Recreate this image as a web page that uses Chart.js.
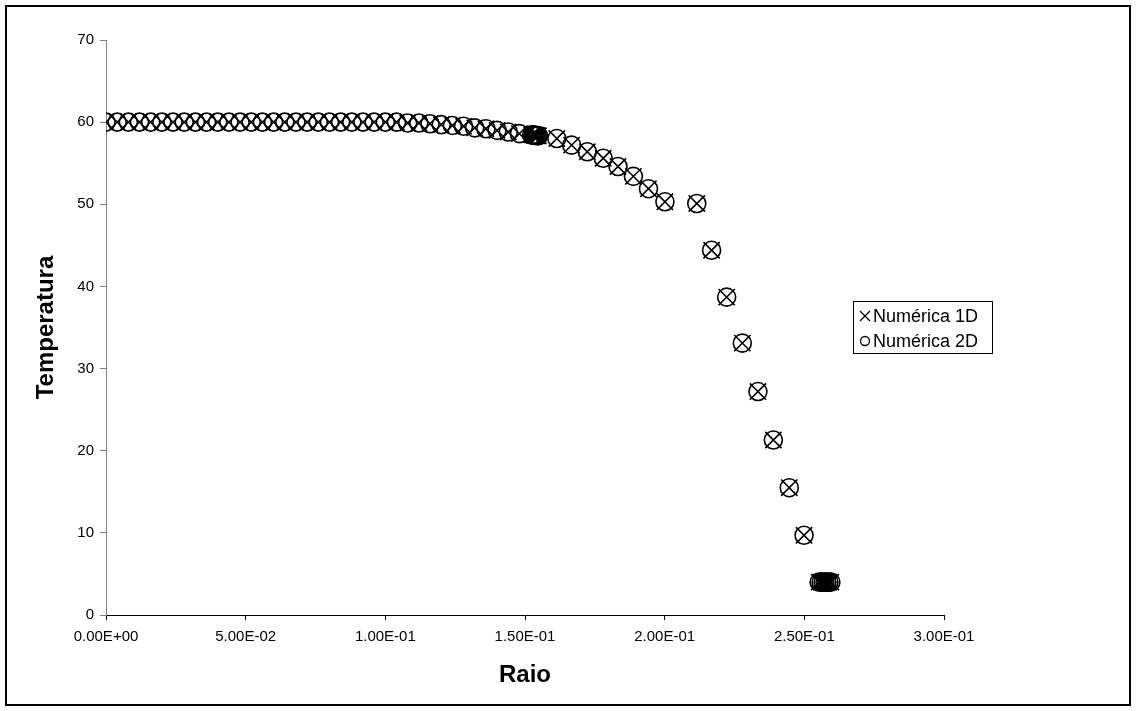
<!DOCTYPE html>
<html>
<head>
<meta charset="utf-8">
<script src="https://cdn.jsdelivr.net/npm/chart.js@4/dist/chart.umd.min.js"></script>
<style>
  body { margin: 0; background: #fff; }
  #wrap { width: 1136px; height: 711px; }
</style>
</head>
<body>
<div id="wrap"><canvas id="myChart" width="1136" height="711"></canvas></div>
<script>
// raio (x) values, same mesh for both solutions
const raio = [
  0, 0.004, 0.008, 0.012, 0.016, 0.02, 0.024, 0.028, 0.032, 0.036,
  0.04, 0.044, 0.048, 0.052, 0.056, 0.06, 0.064, 0.068, 0.072, 0.076,
  0.08, 0.084, 0.088, 0.092, 0.096, 0.1, 0.104, 0.108, 0.112, 0.116,
  0.12, 0.124, 0.128, 0.132, 0.136, 0.14, 0.144, 0.148,
  0.1524, 0.1528, 0.1532, 0.1536, 0.154, 0.1544, 0.1548,
  0.1614, 0.1667, 0.1723, 0.178, 0.1833, 0.1888, 0.1942, 0.2001,
  0.2115, 0.2168, 0.2222, 0.2278, 0.2334, 0.2389, 0.2446, 0.2499,
  0.2553, 0.256, 0.2567, 0.2574, 0.2581, 0.2588, 0.2595
];

const temp1D = [
  60, 60, 60, 60, 60, 60, 60, 60, 60, 60,
  60, 60, 60, 60, 60, 60, 60, 60, 60, 60,
  60, 60, 60, 60, 60, 60, 60, 59.9, 59.9, 59.8,
  59.7, 59.6, 59.5, 59.3, 59.2, 59, 58.8, 58.6,
  58.45, 58.45, 58.4, 58.4, 58.4, 58.35, 58.35,
  58, 57.2, 56.4, 55.6, 54.6, 53.4, 51.9, 50.3,
  50.1, 44.4, 38.7, 33.1, 27.2, 21.3, 15.5, 9.7,
  4, 4, 4, 4, 4, 4, 4
];

const temp2D = [
  60, 60, 60, 60, 60, 60, 60, 60, 60, 60,
  60, 60, 60, 60, 60, 60, 60, 60, 60, 60,
  60, 60, 60, 60, 60, 60, 60, 59.9, 59.9, 59.8,
  59.7, 59.6, 59.5, 59.3, 59.2, 59, 58.8, 58.6,
  58.45, 58.45, 58.4, 58.4, 58.4, 58.35, 58.35,
  58, 57.2, 56.4, 55.6, 54.6, 53.4, 51.9, 50.3,
  50.1, 44.4, 38.7, 33.1, 27.2, 21.3, 15.5, 9.7,
  4, 4, 4, 4, 4, 4, 4
];

const seriesLabels = ['Numérica 1D', 'Numérica 2D'];

const FONT = '"Liberation Sans", Arial, sans-serif';

function sci(v) {
  const parts = Number(v).toExponential(2).split('e');
  const n = parseInt(parts[1], 10);
  return parts[0] + 'E' + (n < 0 ? '-' : '+') + String(Math.abs(n)).padStart(2, '0');
}

function pts(xs, ys) {
  return xs.map((x, i) => ({ x: x, y: ys[i] }));
}

// outer frame + white background
const frame = {
  id: 'frame',
  beforeDraw(chart) {
    const ctx = chart.ctx;
    ctx.save();
    ctx.fillStyle = '#fff';
    ctx.fillRect(0, 0, chart.width, chart.height);
    ctx.restore();
  },
  afterDraw(chart) {
    const ctx = chart.ctx;
    ctx.save();
    ctx.strokeStyle = '#000';
    ctx.lineWidth = 2;
    ctx.strokeRect(6, 6, 1124, 699);
    ctx.restore();
  }
};

// excel style legend box on the right
const legendBox = {
  id: 'legendBox',
  afterDraw(chart) {
    const ctx = chart.ctx;
    ctx.save();
    ctx.strokeStyle = '#000';
    ctx.lineWidth = 1;
    ctx.strokeRect(853.5, 301.5, 139, 52);
    ctx.font = '18px ' + FONT;
    ctx.textBaseline = 'middle';
    ctx.fillStyle = '#000';
    chart.data.datasets.forEach((ds, i) => {
      const y = 316 + i * 25;
      const cx = 865;
      ctx.beginPath();
      ctx.lineWidth = 1.3;
      if (i === 0) {
        ctx.moveTo(cx - 5, y - 5); ctx.lineTo(cx + 5, y + 5);
        ctx.moveTo(cx + 5, y - 5); ctx.lineTo(cx - 5, y + 5);
      } else {
        ctx.arc(cx, y, 4.5, 0, Math.PI * 2);
      }
      ctx.stroke();
      ctx.fillText(ds.label, 873, y + 1);
    });
    ctx.restore();
  }
};

const config = {
  type: 'scatter',
  data: {
    datasets: [
      {
        label: seriesLabels[0],
        data: pts(raio, temp1D),
        pointStyle: 'crossRot',
        pointRadius: 11.5,
        pointHoverRadius: 11.5,
        borderColor: '#000',
        backgroundColor: '#000',
        pointBorderWidth: 1.6
      },
      {
        label: seriesLabels[1],
        data: pts(raio, temp2D),
        pointStyle: 'circle',
        pointRadius: 9,
        pointHoverRadius: 9,
        borderColor: '#000',
        backgroundColor: 'rgba(0,0,0,0)',
        pointBorderWidth: 1.6
      }
    ]
  },
  options: {
    responsive: false,
    animation: false,
    layout: { padding: { left: 0, right: 192, top: 40, bottom: 0 } },
    plugins: {
      legend: { display: false },
      tooltip: { enabled: false }
    },
    scales: {
      x: {
        type: 'linear',
        min: 0,
        max: 0.3,
        afterFit(scale) { scale.height = 96; },
        border: { color: '#000', width: 1 },
        grid: { drawOnChartArea: false, drawTicks: true, tickLength: 5, color: '#000' },
        ticks: {
          stepSize: 0.05,
          autoSkip: false,
          maxRotation: 0,
          padding: 8,
          color: '#000',
          font: { family: FONT, size: 15 },
          callback: (v) => sci(v)
        },
        title: {
          display: true,
          text: 'Raio',
          color: '#000',
          font: { family: FONT, size: 24, weight: 'bold' },
          padding: { top: 0, bottom: 21 }
        }
      },
      y: {
        min: 0,
        max: 70,
        afterFit(scale) { scale.width = 106; },
        border: { color: '#808080', width: 1 },
        grid: { drawOnChartArea: false, drawTicks: true, tickLength: 6, color: '#808080' },
        ticks: {
          stepSize: 10,
          padding: 6,
          color: '#000',
          font: { family: FONT, size: 15 }
        },
        title: {
          display: true,
          text: 'Temperatura',
          color: '#000',
          font: { family: FONT, size: 24, weight: 'bold' },
          padding: { top: 32, bottom: 0 }
        }
      }
    }
  },
  plugins: [frame, legendBox]
};

var myChart = new Chart(document.getElementById('myChart'), config);
</script>
</body>
</html>
